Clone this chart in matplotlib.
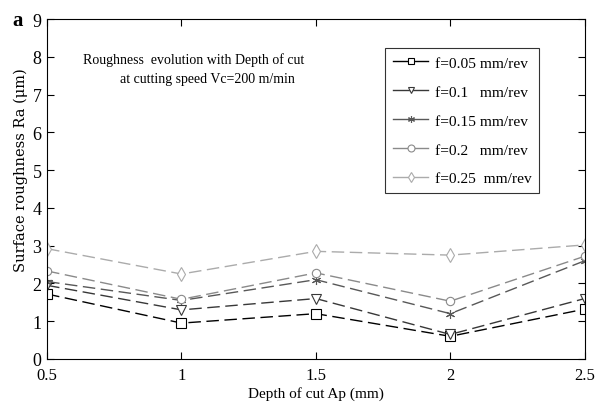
import numpy as np
import matplotlib.pyplot as plt

plt.rcParams['font.family'] = ['Liberation Serif', 'DejaVu Serif']

# Data
depth = [0.5, 1.0, 1.5, 2.0, 2.5]
ra_005 = [1.72, 0.95, 1.2, 0.6, 1.32]
ra_010 = [1.95, 1.3, 1.6, 0.65, 1.6]
ra_015 = [2.05, 1.55, 2.1, 1.2, 2.6]
ra_020 = [2.33, 1.58, 2.28, 1.53, 2.72]
ra_025 = [2.92, 2.25, 2.85, 2.75, 3.02]
labels = ['f=0.05 mm/rev', 'f=0.1   mm/rev', 'f=0.15 mm/rev',
          'f=0.2   mm/rev', 'f=0.25  mm/rev']

series = [ra_005, ra_010, ra_015, ra_020, ra_025]
markers = ['s', 'v', (6, 2, 0), 'o', 'd']
colors = ['#000000', '#383838', '#585858', '#8a8a8a', '#ababab']
sizes = [6.5, 6.5, 6.5, 6, 7.5]

fig = plt.figure(figsize=(5.96, 4.1), dpi=100)
ax = fig.add_axes([0.079, 0.122, 0.902, 0.829])

for y, m, c, s, lab in zip(series, markers, colors, sizes, labels):
    ax.plot(depth, y, linestyle=(0, (9, 4)), color=c, linewidth=1.0,
            marker=m, markersize=s, markerfacecolor='white',
            markeredgecolor=c, markeredgewidth=0.8, label=lab)

ax.set_xlim(0.5, 2.5)
ax.set_ylim(0, 9)
ax.set_xticks([0.5, 1, 1.5, 2, 2.5])
ax.set_xticklabels(['0.5', '1', '1.5', '2', '2.5'])
ax.set_yticks(range(10))
ax.tick_params(direction='in', top=True, right=True, labelsize=12, length=5)
ax.tick_params(axis='y', labelsize=13, pad=4)
ax.tick_params(axis='x', pad=6)
ax.set_xlabel('Depth of cut Ap (mm)', fontsize=11, labelpad=2)
ax.set_ylabel('Surface roughness Ra (\u03bcm)', fontsize=10.5,
              family=['DejaVu Serif'])
ax.yaxis.set_label_coords(-0.035, 0.56)

ax.text(0.273, 0.883, 'Roughness  evolution with Depth of cut',
        transform=ax.transAxes, ha='center', va='center', fontsize=10)
ax.text(0.299, 0.825, 'at cutting speed Vc=200 m/min',
        transform=ax.transAxes, ha='center', va='center', fontsize=10)

leg = ax.legend(loc='upper left', bbox_to_anchor=(0.629, 0.914), fontsize=11.1,
                frameon=True, fancybox=False, edgecolor='black',
                handlelength=2.3, handletextpad=0.4, labelspacing=0.98,
                borderpad=0.5, borderaxespad=0)
leg.get_frame().set_linewidth(0.8)
for h in leg.get_lines():
    h.set_linestyle('-')
    h.set_markersize(5)

fig.text(0.02, 0.95, 'a', fontsize=15, fontweight='bold', va='center')

fig.savefig('out.png', dpi=100)
